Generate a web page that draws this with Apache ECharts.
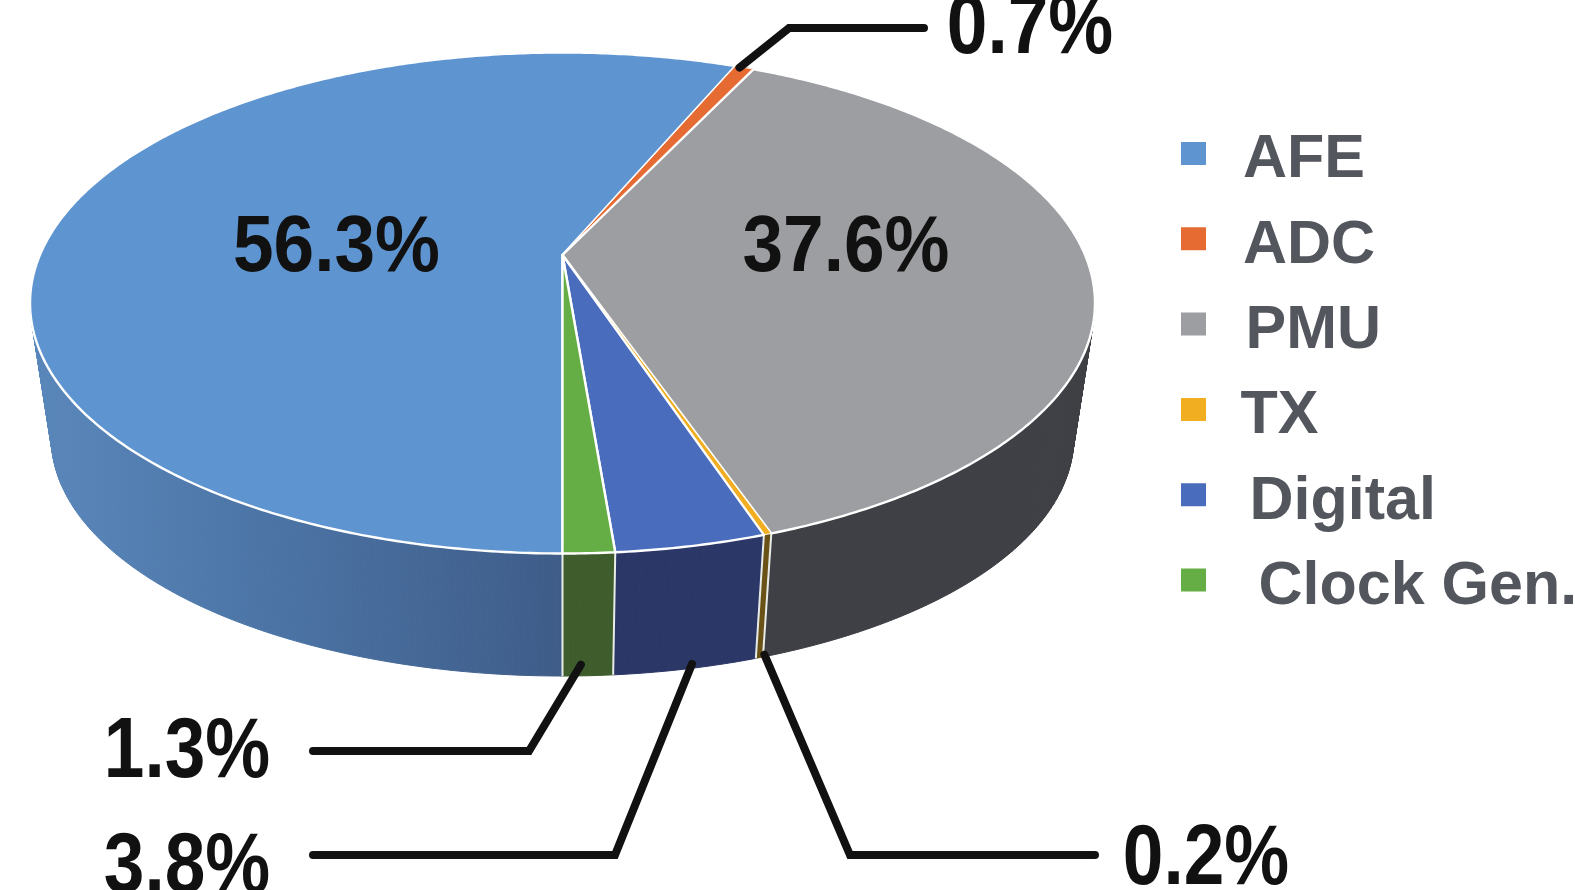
<!DOCTYPE html>
<html>
<head>
<meta charset="utf-8">
<style>html,body{margin:0;padding:0;background:#fff}#c{width:1575px;height:890px}</style>
<script src="https://cdn.jsdelivr.net/npm/echarts@6/dist/echarts.min.js"></script>
</head>
<body>
<div id="c"></div>
<script>
// Data
const categories = ['AFE', 'ADC', 'PMU', 'TX', 'Digital', 'Clock Gen.'];
const shares = [56.3, 0.7, 37.6, 0.2, 3.8, 1.3];

// Styles
const topColors = ['#5e95d1', '#e66b33', '#9d9ea2', '#f1ae20', '#4a6cbc', '#65ad45'];
const FONT = '"Liberation Sans", Arial, sans-serif';
const legendPad = [32, 32, 34.5, 29.5, 38.5, 47.5];

// Projection of the pie disc (perspective view)
const cx = 562.5, cy = 255, a = 522.6, b = 241.3, k = 0.1916;
const shrinkX = 0.96, shrinkY = 0.95, vanishY = 3004;
const total = shares.reduce((s, v) => s + v, 0);
const rim = t => {
  const u = Math.sin(t), v = Math.cos(t), d = 1 + k * v;
  return [cx + a * u / d, cy - b * v / d];
};
const lower = p => [cx + (p[0] - cx) * shrinkX, vanishY - (vanishY - p[1]) * shrinkY];
const starts = [];
shares.reduce((acc, v, i) => { starts[i] = acc; return acc + v; }, 0);
const angle = f => Math.PI + 2 * Math.PI * f / total;

const afeWall = new echarts.graphic.LinearGradient(30, 0, 562, 0, [
  { offset: 0, color: '#5a87bb' }, { offset: 0.5, color: '#4a72a3' }, { offset: 1, color: '#3f5c88' }
], true);
const wallFills = [afeWall, '#b4562a', '#3f4045', '#6a5216', '#2b3767', '#3e5c2c'];

// Annotation layout: label centre, vertical stretch, leader tail offset, elbow and end
const notes = [
  { text: [336.5, 249], scale: 1.1 },
  { text: [1030, 29], scale: 1.18, tail: [-5, 0], path: [[789, 28], [924, 28]], onTop: true },
  { text: [846, 249], scale: 1.1 },
  { text: [1206, 860], scale: 1.18, tail: [5, -3], path: [[850, 855], [1095, 855]] },
  { text: [187, 868], scale: 1.18, tail: [6, -5], path: [[615, 855], [313, 855]] },
  { text: [187, 753], scale: 1.18, tail: [-7, -11], path: [[529, 751], [313, 751]] }
];

function wallItem(params, api) {
  const i = params.dataIndex;
  const t0 = angle(starts[i]), t1 = angle(starts[i] + api.value(0));
  const n = Math.max(2, Math.ceil(Math.abs(t1 - t0) / 0.01));
  const children = [];
  for (let j = 0; j < n; j++) {
    const p = rim(t0 + (t1 - t0) * j / n), q = rim(t0 + (t1 - t0) * (j + 1) / n);
    children.push({
      type: 'polygon', shape: { points: [p, q, lower(q), lower(p)] },
      style: { fill: wallFills[i], stroke: wallFills[i], lineWidth: 1 }, silent: true
    });
  }
  return { type: 'group', children };
}

function edgeItem(params, api) {
  const i = params.dataIndex;
  const t0 = angle(starts[i]);
  const p = rim(t0);
  const children = [{
    type: 'line', shape: { x1: p[0], y1: p[1], x2: lower(p)[0], y2: lower(p)[1] },
    style: { stroke: '#e8ece8', lineWidth: 2 }, silent: true
  }];
  return { type: 'group', children };
}

function faceItem(idx) {
  return function (params, api) {
    const v = api.value(0);
    const t0 = angle(starts[idx]), t1 = angle(starts[idx] + v);
    const n = Math.max(2, Math.ceil(Math.abs(t1 - t0) / 0.01));
    const pts = [[cx, cy]];
    for (let j = 0; j <= n; j++) pts.push(rim(t0 + (t1 - t0) * j / n));
    const note = notes[idx];
    const children = [{
      type: 'polygon', shape: { points: pts },
      style: { fill: topColors[idx], stroke: '#ffffff', lineWidth: idx === 3 || idx === 1 ? 1 : 2.4, lineJoin: 'round' },
      silent: true
    }];
    if (note.path) {
      const m = rim((t0 + t1) / 2);
      const s = note.onTop ? m : lower(m);
      const startPt = [s[0] + note.tail[0], s[1] + note.tail[1]];
      children.push({
        type: 'polyline', shape: { points: [startPt].concat(note.path) },
        style: { stroke: '#111111', lineWidth: 8, fill: 'none', lineJoin: 'miter', lineCap: 'round' },
        silent: true
      });
    }
    children.push({
      type: 'text', x: note.text[0], y: note.text[1], scaleY: note.scale, silent: true,
      style: {
        text: v.toFixed(1) + '%', fontFamily: FONT, fontWeight: 'bold', fontSize: 73,
        fill: '#111111', align: 'center', verticalAlign: 'middle'
      }
    });
    return { type: 'group', children };
  };
}

const option = {
  animation: false,
  backgroundColor: '#ffffff',
  legend: {
    orient: 'vertical', left: 1176, top: 125,
    itemWidth: 25, itemHeight: 37, itemGap: 24.3,
    // the swatch sits above the middle of its row, so the icon's box reaches below it
    icon: 'path://M0 0H25V23H0ZM0 37H0.01V37H0Z',
    selectedMode: false,
    data: categories.map((name, i) => ({
      name,
      textStyle: {
        fontFamily: FONT, fontWeight: 'bold', fontSize: 61, lineHeight: 60,
        color: '#54565e', padding: [0, 0, 0, legendPad[i]]
      }
    }))
  },
  series: [
    {
      type: 'custom', name: 'walls', coordinateSystem: 'none', z: 1, silent: true,
      renderItem: wallItem, data: shares.map(v => [v])
    },
    {
      type: 'custom', name: 'edges', coordinateSystem: 'none', z: 1.5, silent: true,
      renderItem: edgeItem, data: shares.map(v => [v])
    }
  ].concat(categories.map((name, i) => ({
    type: 'custom', name, coordinateSystem: 'none', z: 2, silent: true,
    itemStyle: { color: topColors[i] },
    renderItem: faceItem(i), data: [[shares[i]]]
  })))
};

echarts.init(document.getElementById('c'), null, { renderer: 'canvas' }).setOption(option);
</script>
</body>
</html>
